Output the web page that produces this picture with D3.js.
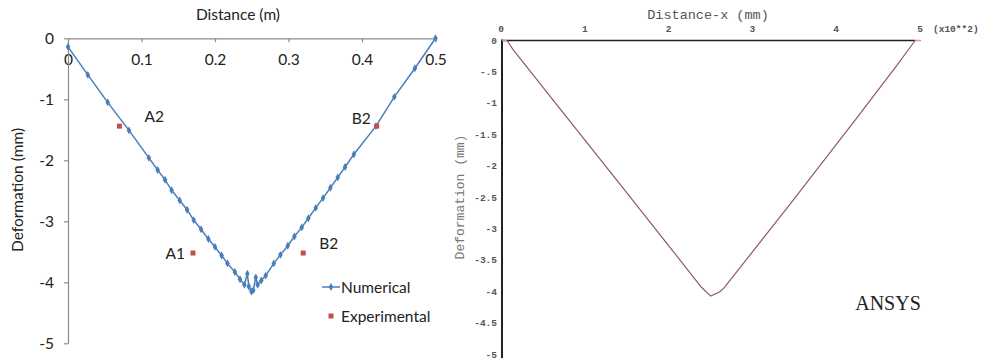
<!DOCTYPE html>
<html>
<head>
<meta charset="utf-8">
<script src="https://cdn.jsdelivr.net/npm/d3@7"></script>
<style>
  html, body { margin: 0; padding: 0; background: #fff; }
  svg { display: block; }
</style>
</head>
<body>
<svg id="chart" width="984" height="362"></svg>
<script>
// ---- Left panel: numerical vs experimental deformation along the beam ----
const numX = [0, 0.027, 0.054, 0.083, 0.110, 0.122, 0.132, 0.141, 0.152, 0.162, 0.171, 0.181, 0.191, 0.200,
  0.209, 0.217, 0.227, 0.234, 0.240, 0.244, 0.246, 0.2495, 0.252, 0.2555, 0.258, 0.263, 0.269, 0.280,
  0.289, 0.299, 0.308, 0.318, 0.327, 0.337, 0.347, 0.357, 0.367, 0.377, 0.389, 0.419, 0.444, 0.472, 0.5];
const numY = [-0.14, -0.60, -1.05, -1.51, -1.96, -2.16, -2.32, -2.49, -2.66, -2.81, -2.98, -3.13, -3.29, -3.42,
  -3.56, -3.69, -3.83, -3.95, -4.04, -3.86, -4.07, -4.15, -4.13, -3.92, -4.04, -3.97, -3.89, -3.69,
  -3.55, -3.40, -3.25, -3.10, -2.95, -2.78, -2.62, -2.45, -2.28, -2.11, -1.90, -1.44, -0.96, -0.49, 0];

const expX = [0.07, 0.17, 0.32, 0.42];
const expY = [-1.44, -3.52, -3.52, -1.44];
const expNames = ["A2", "A1", "B2", "B2"];

const leftXTicks = [0, 0.1, 0.2, 0.3, 0.4, 0.5];
const leftYTicks = [0, -1, -2, -3, -4, -5];
const legendNames = ["Numerical", "Experimental"];

// ---- Right panel: ANSYS deformation curve (distance in units of 100 mm) ----
const ansysX = [0.06, 0.13, 0.61, 1.45, 2.08, 2.38, 2.49, 2.60, 2.65, 3.44, 4.23, 4.71, 4.93];
const ansysY = [0, -0.14, -0.95, -2.36, -3.42, -3.93, -4.07, -4.00, -3.94, -2.60, -1.24, -0.40, 0];
const ansysXTicks = [0, 1, 2, 3, 4, 5];
const ansysYTicks = [0, -0.5, -1, -1.5, -2, -2.5, -3, -3.5, -4, -4.5, -5];
const ansysYLabels = ["0", "-.5", "-1", "-1.5", "-2", "-2.5", "-3", "-3.5", "-4", "-4.5", "-5"];

const svg = d3.select("#chart");
const sans = "Lato, 'Open Sans', sans-serif";
const mono = "'Liberation Mono', 'DejaVu Sans Mono', monospace";
const fs = "15.5px";

// ================= Left panel =================
const xL = d3.scaleLinear().domain([0, 0.5]).range([68, 435.5]);
const yL = d3.scaleLinear().domain([0, -5]).range([38.3, 343.3]);
const blue = "#4a7ebb";
const red = "#c0504d";
const axisGrey = "#8c8c8c";
const ink = "#222";

const gxL = svg.append("g").attr("transform", `translate(0,${yL(0)})`)
  .call(d3.axisBottom(xL).tickValues(leftXTicks).tickFormat(d => String(d))
    .tickSizeInner(4).tickSizeOuter(0).tickPadding(12));
const gyL = svg.append("g").attr("transform", `translate(${xL(0)},0)`)
  .call(d3.axisLeft(yL).tickValues(leftYTicks).tickFormat(d => String(d))
    .tickSizeInner(4).tickSizeOuter(0).tickPadding(10));
[gxL, gyL].forEach(g => {
  g.selectAll("path, line").attr("stroke", axisGrey).attr("stroke-width", 1.2);
  g.selectAll("text").attr("fill", ink).style("font-family", sans).style("font-size", fs);
});

svg.append("text").attr("x", 238).attr("y", 20).attr("text-anchor", "middle")
  .style("font-family", sans).style("font-size", fs).attr("fill", ink)
  .text("Distance (m)");
svg.append("text").attr("transform", "translate(23,190) rotate(-90)").attr("text-anchor", "middle")
  .style("font-family", sans).style("font-size", fs).attr("fill", ink)
  .text("Deformation (mm)");

const numPts = numX.map((x, i) => [x, numY[i]]);
svg.append("path").datum(numPts)
  .attr("d", d3.line().x(d => xL(d[0])).y(d => yL(d[1])))
  .attr("fill", "none").attr("stroke", blue).attr("stroke-width", 1.5);

const diamond = d3.symbol().type(d3.symbolDiamond).size(18);
svg.append("g").selectAll("path").data(numPts).join("path")
  .attr("transform", d => `translate(${xL(d[0])},${yL(d[1])})`)
  .attr("d", diamond).attr("fill", blue);

const expPts = expX.map((x, i) => [x, expY[i], expNames[i]]);
svg.append("g").selectAll("rect").data(expPts).join("rect")
  .attr("x", d => xL(d[0]) - 2.5).attr("y", d => yL(d[1]) - 2.5)
  .attr("width", 5).attr("height", 5).attr("fill", red);

// point-name labels: offset and anchor per point
const labelPlace = [
  { dx: 25, dy: -4, anchor: "start" },
  { dx: -8, dy: 6, anchor: "end" },
  { dx: 16, dy: -4, anchor: "start" },
  { dx: -6, dy: -2, anchor: "end" }
];
svg.append("g").selectAll("text").data(expPts).join("text")
  .attr("x", (d, i) => xL(d[0]) + labelPlace[i].dx)
  .attr("y", (d, i) => yL(d[1]) + labelPlace[i].dy)
  .attr("text-anchor", (d, i) => labelPlace[i].anchor)
  .style("font-family", sans).style("font-size", fs).attr("fill", ink)
  .text(d => d[2]);

// legend
const lg = svg.append("g").attr("transform", "translate(322,287)");
lg.append("line").attr("x1", 0).attr("x2", 18).attr("y1", 0).attr("y2", 0)
  .attr("stroke", blue).attr("stroke-width", 1.5);
lg.append("path").attr("transform", "translate(9,0)").attr("d", diamond).attr("fill", blue);
lg.append("text").attr("x", 19).attr("y", 5.5).style("font-family", sans).style("font-size", fs)
  .attr("fill", ink).text(legendNames[0]);
lg.append("rect").attr("x", 6.5).attr("y", 26.5).attr("width", 5).attr("height", 5).attr("fill", red);
lg.append("text").attr("x", 19).attr("y", 34.5).style("font-family", sans).style("font-size", fs)
  .attr("fill", ink).text(legendNames[1]);

// ================= Right panel (ANSYS) =================
const xR = d3.scaleLinear().domain([0, 5]).range([502, 921]);
const yR = d3.scaleLinear().domain([0, -5]).range([40.5, 354.5]);
const labelGrey = "#555";

// axes lines
svg.append("line").attr("x1", xR(0)).attr("x2", xR(ansysX[ansysX.length - 1]))
  .attr("y1", yR(0)).attr("y2", yR(0)).attr("stroke", "#222").attr("stroke-width", 1.5);
svg.append("line").attr("x1", xR(0)).attr("x2", xR(0))
  .attr("y1", yR(0) - 1).attr("y2", 358).attr("stroke", "#222").attr("stroke-width", 2);

// supported ends along the zero line
const pink = "#d38ad3";
[[0, ansysX[0]], [ansysX[ansysX.length - 1], 5]].forEach(seg => {
  svg.append("line").attr("x1", xR(seg[0])).attr("x2", xR(seg[1]))
    .attr("y1", yR(0)).attr("y2", yR(0)).attr("stroke", pink).attr("stroke-width", 1.5);
});

const ansysPts = ansysX.map((x, i) => [x, ansysY[i]]);
svg.append("path").datum(ansysPts)
  .attr("d", d3.line().x(d => xR(d[0])).y(d => yR(d[1])))
  .attr("fill", "none").attr("stroke", "#8e5a62").attr("stroke-width", 1.2);

// tick labels
svg.append("g").selectAll("text").data(ansysXTicks).join("text")
  .attr("x", d => xR(d) - 1).attr("y", 32).attr("text-anchor", "middle")
  .style("font-family", mono).style("font-size", "9.5px").style("font-weight", "bold")
  .attr("fill", labelGrey).text(d => String(d));
svg.append("text").attr("x", 933).attr("y", 32)
  .style("font-family", mono).style("font-size", "9.5px").style("font-weight", "bold")
  .attr("fill", labelGrey).text("(x10**2)");
svg.append("g").selectAll("text").data(ansysYTicks).join("text")
  .attr("x", 497).attr("y", d => yR(d) + 3).attr("text-anchor", "end")
  .style("font-family", mono).style("font-size", "9.5px").style("font-weight", "bold")
  .attr("fill", labelGrey).text((d, i) => ansysYLabels[i]);

svg.append("text").attr("x", 708).attr("y", 19).attr("text-anchor", "middle")
  .style("font-family", mono).style("font-size", "13.5px").attr("fill", labelGrey)
  .text("Distance-x (mm)");
svg.append("text").attr("transform", "translate(464,197) rotate(-90)").attr("text-anchor", "middle")
  .style("font-family", mono).style("font-size", "13px").attr("fill", "#777")
  .text("Deformation (mm)");

svg.append("text").attr("x", 888).attr("y", 310).attr("text-anchor", "middle")
  .style("font-family", "'Liberation Serif', 'DejaVu Serif', serif").style("font-size", "20px")
  .attr("fill", "#222").text("ANSYS");
</script>
</body>
</html>
